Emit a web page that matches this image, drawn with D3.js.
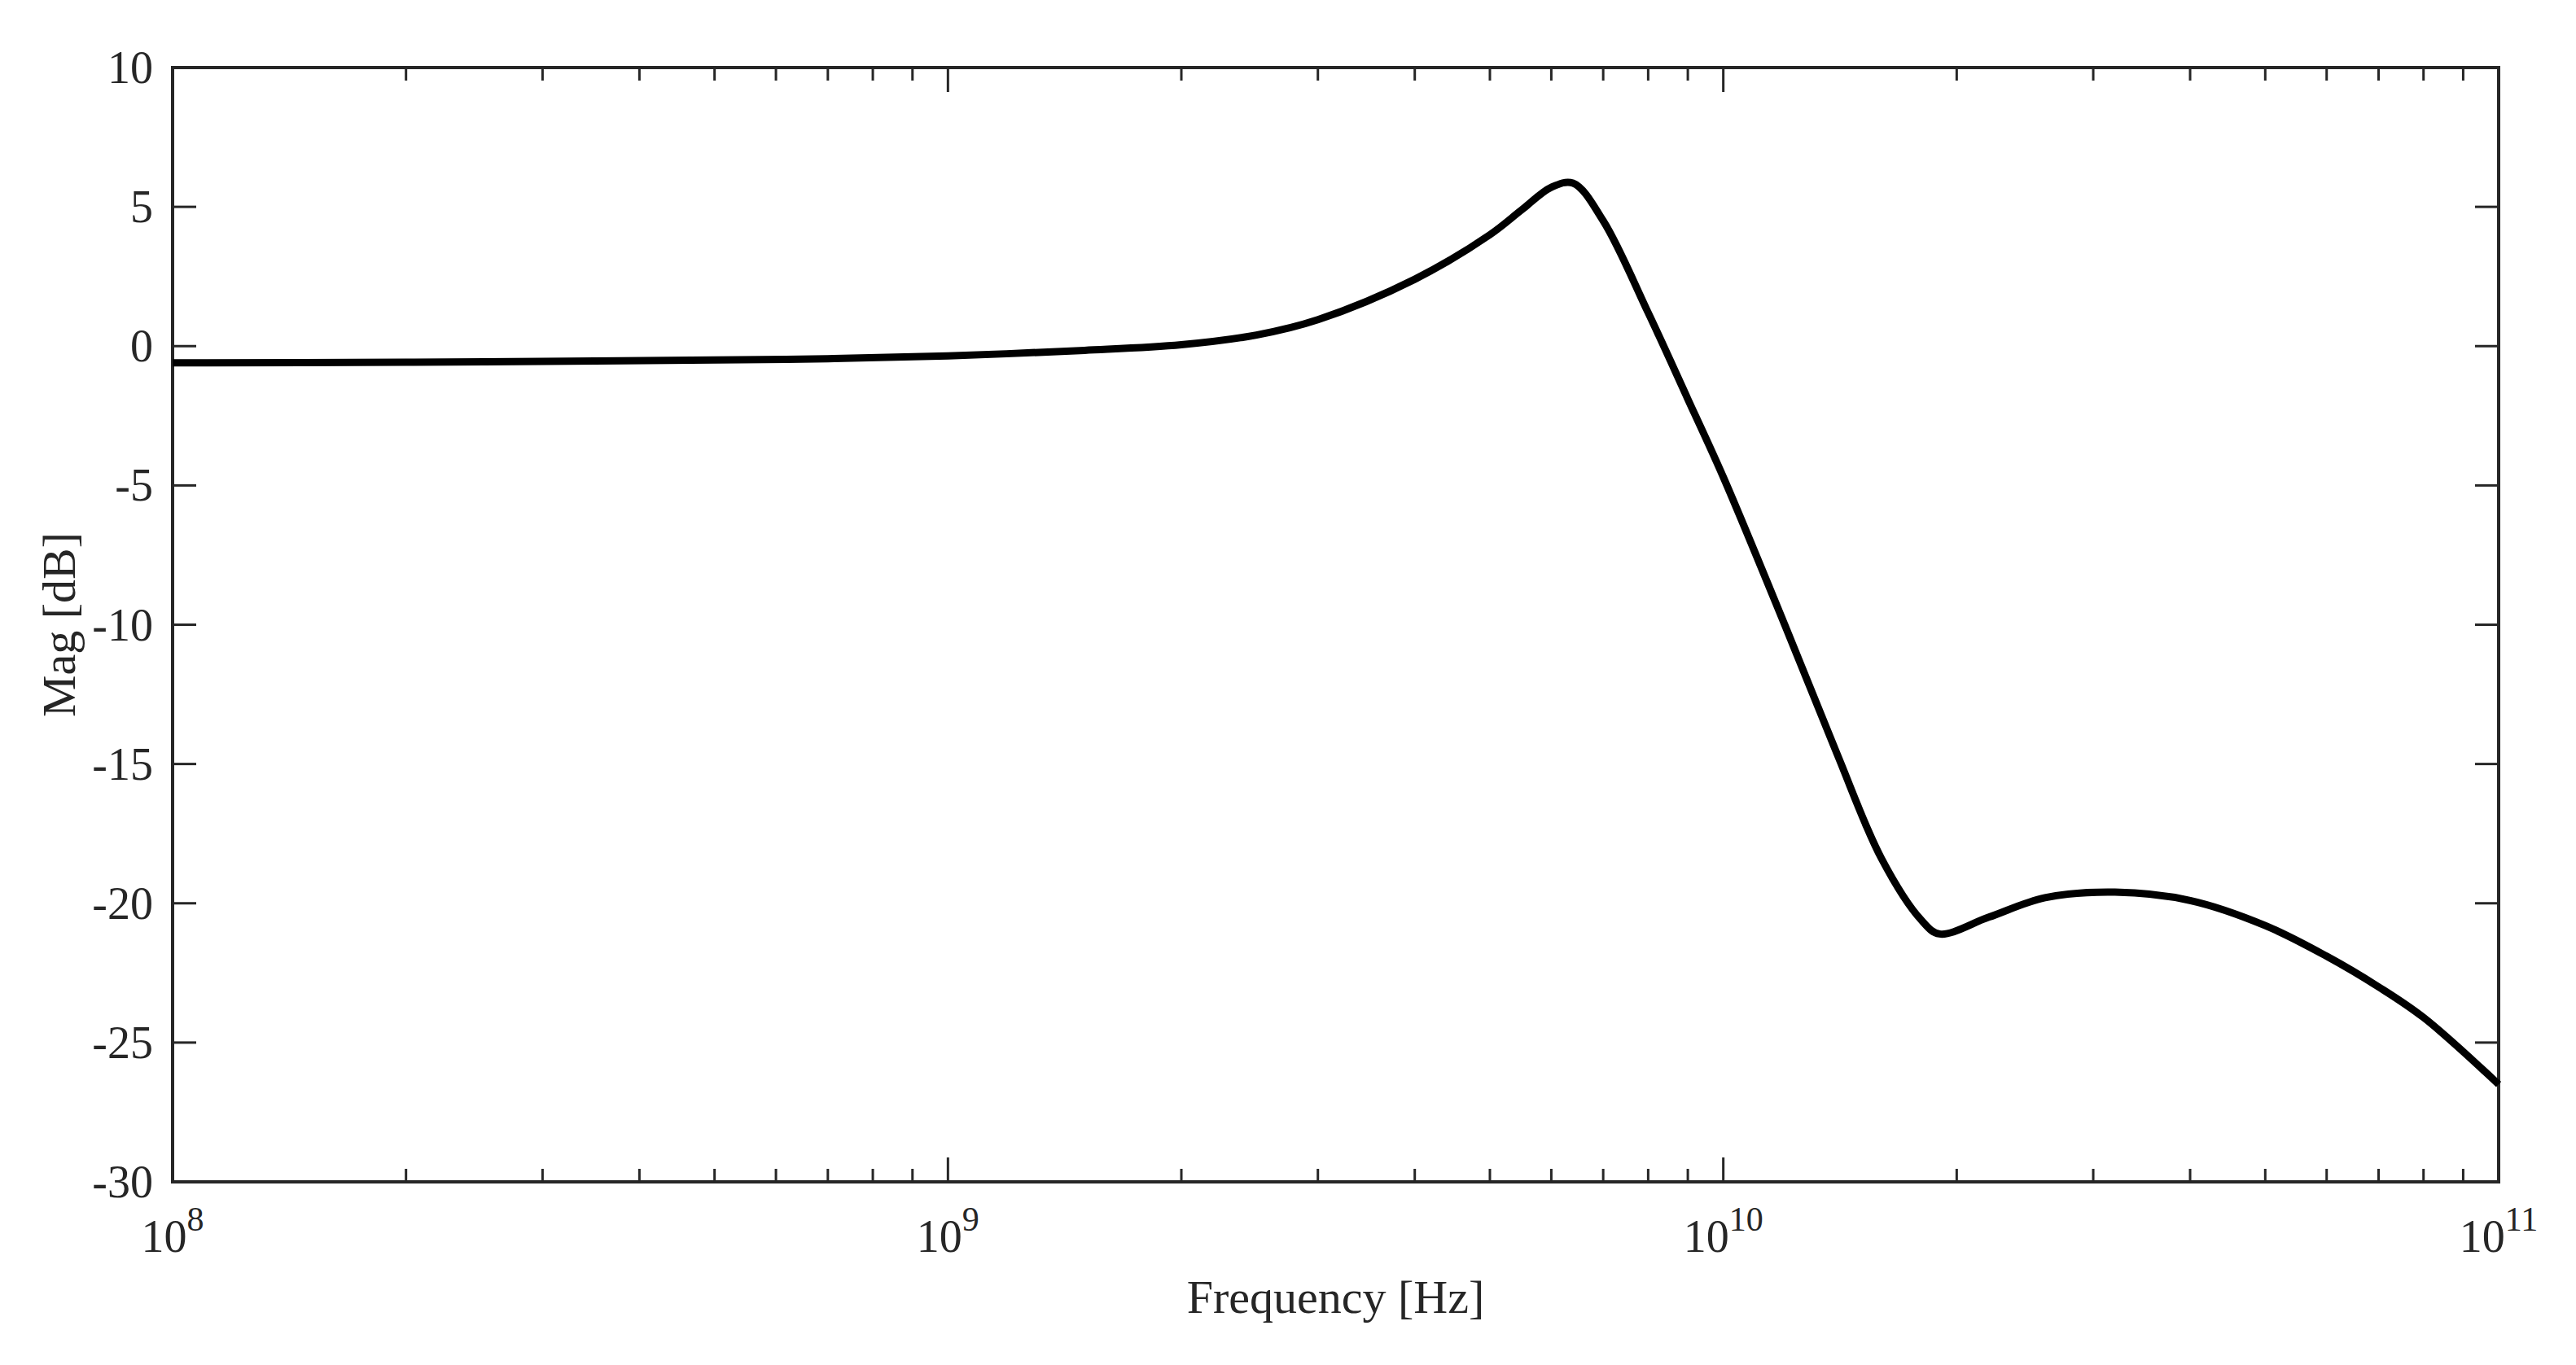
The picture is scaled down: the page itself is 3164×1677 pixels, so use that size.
<!DOCTYPE html>
<html><head><meta charset="utf-8">
<script src="https://cdn.jsdelivr.net/npm/d3@7"></script>
<style>body{margin:0;background:#fff}svg{display:block}</style></head>
<body><svg id="c" width="3164" height="1677"></svg>
<script>
const freq = [1e8,2e8,3e8,5e8,7e8,1e9,1.5e9,2e9,2.5e9,3e9,4e9,5e9,5.5e9,6e9,6.4e9,7e9,8e9,9e9,1e10,1.2e10,1.4e10,1.6e10,1.8e10,1.9e10,2.2e10,2.6e10,3.2e10,4e10,5e10,6e10,7e10,8e10,1e11];
const mag  = [-0.6,-0.58,-0.55,-0.5,-0.45,-0.35,-0.15,0.05,0.4,0.95,2.4,4.0,4.9,5.7,5.85,4.5,1.2,-1.9,-4.7,-10,-14.6,-18.4,-20.6,-21.1,-20.5,-19.8,-19.6,-19.9,-20.8,-21.9,-23.0,-24.1,-26.5];
const yTicks = [-30,-25,-20,-15,-10,-5,0,5,10];
const xDecades = [8,9,10,11];

const L=212,R=3069,T=83,B=1452;
const svg=d3.select("#c");
const x=d3.scaleLog().domain([1e8,1e11]).range([L,R]);
const y=d3.scaleLinear().domain([-30,10]).range([B,T]);
const font="'Liberation Serif', 'Times New Roman', serif";
const col="#262626";
const minors=[];
for(let e=8;e<11;e++)for(let m=2;m<=9;m++)minors.push(m*Math.pow(10,e));

const g=svg.append("g");
function xt(sel,y0,dir){
  sel.selectAll(null).data(minors).enter().append("line")
   .attr("x1",d=>x(d)).attr("x2",d=>x(d)).attr("y1",y0).attr("y2",y0+dir*16)
   .attr("stroke",col).attr("stroke-width",3);
  sel.selectAll(null).data(xDecades).enter().append("line")
   .attr("x1",d=>x(Math.pow(10,d))).attr("x2",d=>x(Math.pow(10,d))).attr("y1",y0).attr("y2",y0+dir*30)
   .attr("stroke",col).attr("stroke-width",3);
}
xt(g,B,-1); xt(g,T,1);
g.selectAll(null).data(yTicks).enter().append("line")
 .attr("x1",L).attr("x2",L+29).attr("y1",d=>y(d)).attr("y2",d=>y(d)).attr("stroke",col).attr("stroke-width",3);
g.selectAll(null).data(yTicks).enter().append("line")
 .attr("x1",R).attr("x2",R-29).attr("y1",d=>y(d)).attr("y2",d=>y(d)).attr("stroke",col).attr("stroke-width",3);
g.append("rect").attr("x",L).attr("y",T).attr("width",R-L).attr("height",B-T)
 .attr("fill","none").attr("stroke",col).attr("stroke-width",4);

g.selectAll(null).data(yTicks).enter().append("text")
 .attr("x",L-24).attr("y",d=>y(d)+19).attr("text-anchor","end")
 .attr("font-family",font).attr("font-size",56).attr("fill",col).text(d=>d);
const xl=g.selectAll(null).data(xDecades).enter().append("text")
 .attr("x",d=>x(Math.pow(10,d))).attr("y",B+86).attr("text-anchor","middle")
 .attr("font-family",font).attr("font-size",56).attr("fill",col);
xl.append("tspan").text("10");
xl.append("tspan").attr("dy",-26).attr("font-size",42).text(d=>d);

g.append("text").attr("x",(L+R)/2).attr("y",1613).attr("text-anchor","middle")
 .attr("font-family",font).attr("font-size",58).attr("fill",col).text("Frequency [Hz]");
g.append("text").attr("transform",`translate(92,${(T+B)/2}) rotate(-90)`).attr("text-anchor","middle")
 .attr("font-family",font).attr("font-size",58).attr("fill",col).text("Mag [dB]");

const line=d3.line().x((d,i)=>x(freq[i])).y(d=>y(d)).curve(d3.curveCatmullRom.alpha(0.5));
svg.append("path").datum(mag).attr("d",line).attr("fill","none").attr("stroke","#000")
 .attr("stroke-width",9).attr("stroke-linejoin","round");
</script></body></html>
